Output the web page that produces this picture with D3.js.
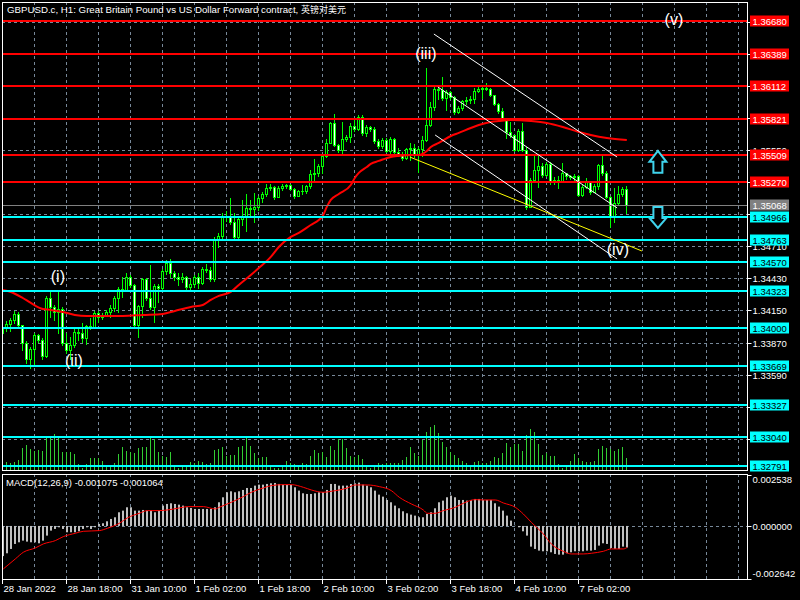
<!DOCTYPE html>
<html><head><meta charset="utf-8">
<script src="https://cdn.jsdelivr.net/npm/d3@7"></script>
<style>
body{margin:0;background:#000;}
svg{display:block;}
text{font-family:"Liberation Sans",Arial,sans-serif;}
</style>
</head><body>
<svg id="c" width="800" height="600"></svg>
<script>
// ---------------- DATA ----------------
const firstOpen = 1.33954;
const closes = [
1.33997,1.34032,1.34067,1.34120,1.34023,1.33866,1.33726,1.33814,1.33936,1.33892,
1.33753,1.34259,1.34181,1.34137,1.34163,1.33866,1.33805,1.33849,1.33962,1.33954,
1.33910,1.34015,1.34006,1.34128,1.34093,1.34111,1.34137,1.34172,1.34259,1.34338,
1.34329,1.34443,1.34373,1.34023,1.34190,1.34426,1.34259,1.34181,1.34364,1.34347,
1.34495,1.34565,1.34478,1.34443,1.34426,1.34443,1.34356,1.34382,1.34443,1.34391,
1.34513,1.34504,1.34426,1.34775,1.34801,1.34976,1.34967,1.34924,1.34793,1.34950,
1.34976,1.35046,1.35037,1.35055,1.35133,1.35168,1.35221,1.35230,1.35142,1.35221,
1.35238,1.35247,1.35212,1.35151,1.35195,1.35195,1.35238,1.35343,1.35352,1.35413,
1.35501,1.35614,1.35789,1.35597,1.35553,1.35649,1.35667,1.35763,1.35737,1.35841,
1.35702,1.35754,1.35737,1.35632,1.35588,1.35640,1.35544,1.35649,1.35536,1.35518,
1.35483,1.35562,1.35570,1.35509,1.35562,1.35640,1.35771,1.35929,1.36086,1.36077,
1.36007,1.36060,1.36016,1.35885,1.35920,1.35981,1.35990,1.35999,1.36069,1.36086,
1.36095,1.36086,1.36034,1.35955,1.35894,1.35833,1.35710,1.35684,1.35553,1.35719,
1.35553,1.35055,1.35291,1.35378,1.35413,1.35334,1.35431,1.35273,1.35291,1.35282,
1.35352,1.35326,1.35317,1.35326,1.35160,1.35230,1.35273,1.35186,1.35238,1.35422,
1.35352,1.35142,1.34967,1.35090,1.35168,1.35212,1.35068];
const highs = [
1.34032,1.34058,1.34085,1.34146,1.34137,1.34023,1.33884,1.33831,1.33954,1.33945,
1.33910,1.34277,1.34312,1.34198,1.34312,1.34181,1.33954,1.33919,1.34006,1.34006,
1.34041,1.34023,1.34085,1.34146,1.34146,1.34128,1.34155,1.34198,1.34277,1.34356,
1.34443,1.34478,1.34460,1.34382,1.34198,1.34434,1.34434,1.34548,1.34382,1.34382,
1.34513,1.34592,1.34600,1.34495,1.34478,1.34478,1.34452,1.34426,1.34460,1.34478,
1.34530,1.34557,1.34530,1.34793,1.34828,1.35002,1.35020,1.35133,1.35002,1.34976,
1.35116,1.35168,1.35116,1.35177,1.35151,1.35186,1.35256,1.35256,1.35238,1.35238,
1.35256,1.35256,1.35256,1.35221,1.35203,1.35247,1.35247,1.35378,1.35474,1.35431,
1.35509,1.35649,1.35798,1.35868,1.35605,1.35798,1.35684,1.35789,1.35833,1.35859,
1.35859,1.35771,1.35763,1.35754,1.35649,1.35658,1.35658,1.35667,1.35658,1.35570,
1.35536,1.35570,1.35614,1.35605,1.35579,1.35675,1.36270,1.35973,1.36112,1.36104,
1.36191,1.36077,1.36069,1.36025,1.35938,1.35990,1.36016,1.36025,1.36095,1.36104,
1.36112,1.36139,1.36095,1.36034,1.35964,1.35920,1.35833,1.35798,1.35684,1.35737,
1.35789,1.35579,1.35308,1.35501,1.35509,1.35439,1.35448,1.35448,1.35317,1.35326,
1.35439,1.35352,1.35334,1.35343,1.35334,1.35247,1.35308,1.35282,1.35256,1.35431,
1.35501,1.35369,1.35151,1.35221,1.35238,1.35230,1.35238];
const lows = [
1.33919,1.33971,1.33971,1.34041,1.34006,1.33805,1.33691,1.33648,1.33674,1.33875,
1.33726,1.33744,1.34093,1.34067,1.33954,1.33849,1.33779,1.33726,1.33831,1.33892,
1.33875,1.33857,1.33989,1.33997,1.34050,1.34076,1.34102,1.34093,1.34146,1.34137,
1.34268,1.34321,1.34356,1.34015,1.33919,1.34093,1.34242,1.34163,1.34050,1.34225,
1.34338,1.34469,1.34443,1.34417,1.34373,1.34399,1.34338,1.34329,1.34356,1.34347,
1.34382,1.34487,1.34408,1.34408,1.34705,1.34784,1.34932,1.34906,1.34766,1.34766,
1.34897,1.34845,1.34967,1.34924,1.35029,1.35099,1.35151,1.35203,1.35125,1.35203,
1.35203,1.35221,1.35203,1.35133,1.35151,1.35168,1.35177,1.35221,1.35273,1.35326,
1.35352,1.35492,1.35614,1.35588,1.35536,1.35527,1.35632,1.35623,1.35719,1.35728,
1.35684,1.35675,1.35719,1.35614,1.35570,1.35570,1.35536,1.35527,1.35518,1.35501,
1.35466,1.35474,1.35466,1.35492,1.35361,1.35501,1.35632,1.35763,1.35903,1.35999,
1.35990,1.35903,1.35999,1.35868,1.35876,1.35903,1.35955,1.35964,1.35964,1.36060,
1.36007,1.36077,1.36025,1.35946,1.35876,1.35815,1.35658,1.35667,1.35544,1.35544,
1.35544,1.35037,1.35072,1.35282,1.35230,1.35317,1.35326,1.35256,1.35256,1.35221,
1.35308,1.35300,1.35300,1.35282,1.35151,1.35151,1.35221,1.35168,1.35195,1.35212,
1.35334,1.35133,1.34880,1.34924,1.35081,1.35151,1.35002];
const volumes = [
250,400,350,400,500,1100,1250,1050,950,1000,
950,1650,1700,1800,1600,900,900,900,800,300,
100,300,600,600,600,450,150,150,350,800,
1150,950,900,850,1100,1150,1150,1600,1550,900,
700,650,900,200,100,150,150,400,350,450,
400,300,350,1000,1050,1150,700,750,750,1150,
1200,1700,1200,850,600,650,650,200,100,100,
250,450,350,300,200,350,300,700,1000,850,
900,650,1200,1000,1550,1550,1100,700,650,750,
550,150,100,200,350,300,350,350,350,350,
500,650,1150,850,700,1500,1900,2150,2250,1850,
1400,1150,900,750,600,450,350,250,400,450,
350,350,450,650,600,850,1350,1150,1300,1300,
950,1750,2050,1900,1300,750,850,700,700,300,
100,150,450,800,600,450,400,400,450,1050,
1200,1100,1050,950,1050,1150,600];
const maBars = [0,2,5,7,10,12,15,18,21,25,30,35,40,43,47,50,52,54,57,59,62,64,67,69,72,74,77,79,80,81,82,84,87,88,89,91,92,94,97,99,102,104,106,107,109,112,114,117,119,122,124,127,132,136,140,144,147,151,156];
const maValues = [1.34329,1.34312,1.34259,1.34216,1.34163,1.34155,1.34137,1.34111,1.34102,1.34102,
1.34102,1.34111,1.34120,1.34146,1.34181,1.34198,1.34242,1.34277,1.34312,1.34373,
1.34460,1.34521,1.34618,1.34705,1.34793,1.34828,1.34897,1.34941,1.34976,1.35055,
1.35116,1.35168,1.35247,1.35308,1.35352,1.35404,1.35431,1.35457,1.35492,1.35501,
1.35509,1.35509,1.35544,1.35579,1.35614,1.35675,1.35702,1.35745,1.35771,1.35798,
1.35806,1.35815,1.35806,1.35789,1.35754,1.35710,1.35684,1.35658,1.35640];
const macdHist = [
-0.001500,
-0.001361,-0.001145,-0.000896,-0.000813,-0.000730,-0.000780,-0.000813,-0.000813,-0.000863,-0.000730,
-0.000481,-0.000232,-0.000149,-0.000066,-0.000149,-0.000315,-0.000315,-0.000315,-0.000266,-0.000149,
-0.000066,-0.000149,-0.000066,0.000100,0.000133,0.000232,0.000349,0.000432,0.000681,0.000764,
0.000930,0.000930,0.000764,0.000764,0.000797,0.000764,0.000764,0.000681,0.000764,0.001013,
0.001096,0.001129,0.001096,0.001062,0.001013,0.000930,0.000896,0.000847,0.000847,0.000847,
0.000847,0.000847,0.000930,0.001179,0.001428,0.001677,0.001726,0.001677,0.001726,0.001793,
0.001892,0.001892,0.002009,0.002058,0.002058,0.002092,0.002125,0.002141,0.002092,0.002058,
0.002058,0.002058,0.001926,0.001760,0.001627,0.001594,0.001594,0.001627,0.001677,0.001677,
0.001793,
0.002092,0.002092,0.002009,0.002009,0.002009,0.002092,0.002125,0.002158,
0.002058,0.002009,0.001926,0.001760,0.001560,0.001461,0.001295,0.001179,0.001013,0.000880,
0.000730,0.000631,0.000564,0.000515,0.000432,0.000432,0.000598,0.000681,0.000880,0.001179,
0.001262,0.001428,0.001511,0.001428,0.001295,0.001295,0.001262,0.001295,0.001345,0.001345,
0.001295,0.001295,0.001295,0.001129,0.000963,0.000764,0.000515,0.000266,0.000010,-0.000066,
-0.000266,-0.000481,-0.001029,-0.001145,-0.001228,-0.001262,-0.001262,-0.001311,-0.001394,-0.001428,
-0.001428,-0.001361,-0.001311,-0.001262,-0.001262,-0.001262,-0.001228,-0.001228,-0.001195,-0.000979,
-0.000863,-0.000896,-0.001096,-0.001145,-0.001145,-0.001029,-0.001075];
const signalBars = [0,3,5,8,10,13,15,18,20,24,26,29,31,34,36,39,41,44,46,50,53,54,57,60,62,65,67,70,72,75,77,80,82,86,88,91,94,97,99,102,105,106,108,110,113,115,118,120,123,125,128,130,132,135,137,140,142,145,147,150,152,155,156];
const signalValues = [-0.002141,-0.001643,-0.001311,-0.001096,-0.000896,-0.000730,-0.000531,-0.000365,-0.000266,-0.000232,
-0.000116,0.000133,0.000398,0.000631,0.000764,0.000764,0.000797,0.000896,0.000963,0.000963,
0.000847,0.000930,0.001179,0.001461,0.001677,0.001892,0.002009,0.002058,0.002058,0.001926,
0.001793,0.001677,0.001726,0.001892,0.002042,0.002042,0.001959,0.001760,0.001428,0.001096,
0.000797,0.000631,0.000631,0.000764,0.000930,0.001129,0.001312,0.001295,0.001295,0.001145,
0.000930,0.000598,0.000183,-0.000398,-0.000896,-0.001262,-0.001394,-0.001394,-0.001361,-0.001262,
-0.001145,-0.001145,-0.001064];
const redLevels = [1.36680,1.36389,1.36112,1.35821,1.35509,1.35270];
const cyanLevels = [1.34966,1.34763,1.34570,1.34323,1.34000,1.33669,1.33327,1.33040,1.32791];
const currentPrice = 1.35068;
const priceGrid = [1.36670,1.36390,1.36110,1.35830,1.35550,1.35270,1.34990,1.34710,1.34430,1.34150,1.33870,1.33590,1.33310,1.33030];
const macdTicks = [0.002538,0.000000,-0.002642];
const timeLabels = ["28 Jan 2022","28 Jan 18:00","31 Jan 10:00","1 Feb 02:00","1 Feb 18:00","2 Feb 10:00","3 Feb 02:00","3 Feb 18:00","4 Feb 10:00","7 Feb 02:00"];
const timeLabelBars = [0,16,32,48,64,80,96,112,128,144];
const channelLines = [[107.9,1.36566,153.7,1.35491],[108.9,1.36103,153.7,1.35046],[108.2,1.35684,153.7,1.34600]];
const yellowLine = [101.9,1.35491,159.9,1.34670];
const waveLabels = ["(i)","(ii)","(iii)","(iv)","(v)"];
const waveBars = [13.9,17.9,105.9,153.9,167.9];
const wavePrices = [1.34443,1.33709,1.36392,1.34687,1.36689];
const arrowBars = [163.9,163.9];
const arrowPrices = [1.35545,1.34871];
const titleLatin = "GBPUSD.c, H1:  Great Britain Pound vs US Dollar Forward contract, ";
const titleCJK = "英镑对美元";
const macdLabel = "MACD(12,26,9) -0.001075 -0.001064";

// ---------------- CHART ----------------
const svg = d3.select("#c");
svg.append("rect").attr("width",800).attr("height",600).attr("fill","#000");
const L=2, R=747, T=2, MB=471, MT=474, B=579;
const x = d3.scaleLinear().domain([0,186]).range([2.3,746.3]);
const y = d3.scaleLinear().domain([1.32747,1.36846]).range([471,2]);
const yM = d3.scaleLinear().domain([-0.002642,0.002538]).range([579,475]);
const yV = d3.scaleLinear().domain([0,2250]).range([470,425]);
const px = i => Math.floor(x(i));
const crisp = v => Math.round(v)+0.5;
const gridCol = "#778899";

const defs = svg.append("defs");
defs.append("clipPath").attr("id","cm").append("rect").attr("x",L+1).attr("y",T+1).attr("width",R-L-1).attr("height",MB-T-1);
defs.append("clipPath").attr("id","cd").append("rect").attr("x",L+1).attr("y",MT+1).attr("width",R-L-1).attr("height",B-MT-1);

const gMain = svg.append("g").attr("clip-path","url(#cm)");
const gMacd = svg.append("g").attr("clip-path","url(#cd)");

// vertical grid
const vBars = d3.range(8,185,8);
[[gMain,T,MB],[gMacd,MT,B]].forEach(([g,a,b])=>{
  g.selectAll(null).data(vBars).join("line")
   .attr("x1",d=>px(d)+0.5).attr("x2",d=>px(d)+0.5).attr("y1",a).attr("y2",b)
   .attr("stroke",gridCol).attr("stroke-dasharray","3,3");
});
// horizontal grid main
gMain.selectAll(null).data(priceGrid).join("line")
  .attr("x1",L).attr("x2",R).attr("y1",d=>crisp(y(d))).attr("y2",d=>crisp(y(d)))
  .attr("stroke",gridCol).attr("stroke-dasharray","3,3");
gMacd.append("line").attr("x1",L).attr("x2",R).attr("y1",crisp(yM(0))).attr("y2",crisp(yM(0)))
  .attr("stroke",gridCol).attr("stroke-dasharray","3,3");

// volumes
gMain.selectAll(null).data(volumes).join("rect")
  .attr("x",(d,i)=>px(i)).attr("width",1)
  .attr("y",d=>yV(d)).attr("height",d=>yV(0)-yV(d)+1).attr("fill","#32cd32");

// candles
const candles = closes.map((c,i)=>{
  const o = i===0?firstOpen:closes[i-1];
  return {i,o,c,h:Math.max(highs[i],o,c),l:Math.min(lows[i],o,c)};
});
const cg = gMain.append("g");
candles.forEach(d=>{
  const cx = px(d.i);
  const yh = Math.round(y(d.h)), yl = Math.round(y(d.l));
  const yt = Math.round(y(Math.max(d.o,d.c))), yb = Math.round(y(Math.min(d.o,d.c)));
  cg.append("rect").attr("x",cx).attr("width",1).attr("y",yh).attr("height",yl-yh+1).attr("fill","#00ff00");
  cg.append("rect").attr("x",cx-1).attr("width",3).attr("y",yt).attr("height",yb-yt+1).attr("fill","#00ff00");
  if (yb-yt>=2) cg.append("rect").attr("x",cx).attr("width",1).attr("y",yt+1).attr("height",yb-yt-1)
      .attr("fill", d.c<d.o ? "#ffffff" : "#000000");
});

// moving average
gMain.append("path").datum(maBars.map((b,k)=>[b,maValues[k]]))
  .attr("d",d3.line().x(d=>x(d[0])+0.5).y(d=>y(d[1])).curve(d3.curveMonotoneX))
  .attr("fill","none").attr("stroke","#ff0000").attr("stroke-width",2);

// horizontal level lines
gMain.append("line").attr("x1",L).attr("x2",R).attr("y1",crisp(y(currentPrice))).attr("y2",crisp(y(currentPrice)))
  .attr("stroke","#808080");
gMain.selectAll(null).data(redLevels).join("line")
  .attr("x1",L).attr("x2",R).attr("y1",d=>Math.round(y(d))).attr("y2",d=>Math.round(y(d)))
  .attr("stroke","#ff0000").attr("stroke-width",2);
gMain.selectAll(null).data(cyanLevels).join("line")
  .attr("x1",L).attr("x2",R).attr("y1",d=>Math.round(y(d))).attr("y2",d=>Math.round(y(d)))
  .attr("stroke","#00ffff").attr("stroke-width",2);

// trend lines
gMain.selectAll(null).data(channelLines).join("line")
  .attr("x1",d=>x(d[0])).attr("y1",d=>y(d[1])).attr("x2",d=>x(d[2])).attr("y2",d=>y(d[3]))
  .attr("stroke","#ffffff").attr("stroke-width",1);
gMain.append("line").attr("x1",x(yellowLine[0])).attr("y1",y(yellowLine[1]))
  .attr("x2",x(yellowLine[2])).attr("y2",y(yellowLine[3])).attr("stroke","#ffff00").attr("stroke-width",1);

// arrows
const upPath = "M0,0 L8.5,11 L4.5,11 L4.5,22 L-4.5,22 L-4.5,11 L-8.5,11 Z";
const dnPath = "M0,0 L8.5,-10 L4.5,-10 L4.5,-21 L-4.5,-21 L-4.5,-10 L-8.5,-10 Z";
[upPath,dnPath].forEach((p,k)=>{
  gMain.append("path").attr("d",p)
    .attr("transform",`translate(${x(arrowBars[k])},${y(arrowPrices[k])})`)
    .attr("fill","#000").attr("stroke","#3fd3ec").attr("stroke-width",2).attr("stroke-linejoin","miter");
});

// wave labels
gMain.selectAll(null).data(waveLabels).join("text")
  .attr("x",(d,k)=>x(waveBars[k])).attr("y",(d,k)=>y(wavePrices[k]))
  .attr("text-anchor","middle").attr("dominant-baseline","central")
  .attr("fill","#ffffff").attr("font-size","16px").text(d=>d);

// MACD histogram
gMacd.selectAll(null).data(macdHist).join("rect")
  .attr("x",(d,i)=>px(i)).attr("width",2)
  .attr("y",d=>Math.min(yM(d),yM(0))).attr("height",d=>Math.abs(yM(d)-yM(0)))
  .attr("fill","#c0c0c0");
gMacd.append("path").datum(signalBars.map((b,k)=>[b,signalValues[k]]))
  .attr("d",d3.line().x(d=>x(d[0])+1).y(d=>yM(d[1])).curve(d3.curveMonotoneX))
  .attr("fill","none").attr("stroke","#ff0000").attr("stroke-width",1);

// frames
const fr = svg.append("g").attr("stroke","#ffffff").attr("fill","none");
fr.append("rect").attr("x",L+0.5).attr("y",T+0.5).attr("width",R-L).attr("height",MB-T-1);
fr.append("rect").attr("x",L+0.5).attr("y",MT+0.5).attr("width",R-L).attr("height",B-MT);

// right price axis
const ax = svg.append("g").attr("font-size","9.5px").attr("fill","#ffffff");
const boxLevels = redLevels.concat(cyanLevels,[currentPrice]);
priceGrid.forEach(p=>{
  const yy = crisp(y(p));
  ax.append("line").attr("x1",R+0.5).attr("x2",R+4.5).attr("y1",yy).attr("y2",yy).attr("stroke","#fff");
  // labels fully covered by a level box are not visible in the reference
  const covered = boxLevels.some(b=>Math.abs(y(b)-y(p))<4);
  if (!covered) ax.append("text").attr("x",752.5).attr("y",yy+3.5).text(p.toFixed(5));
});
function levelBox(p, bg, fg){
  const yy = Math.round(y(p));
  ax.append("rect").attr("x",750).attr("y",yy-5.5).attr("width",39).attr("height",11).attr("fill",bg);
  ax.append("text").attr("x",752.5).attr("y",yy+3.5).attr("fill",fg).text(p.toFixed(5));
}
redLevels.forEach(p=>levelBox(p,"#ff0000","#ffffff"));
cyanLevels.forEach(p=>levelBox(p,"#00ffff","#000000"));
levelBox(currentPrice,"#808080","#ffffff");

// MACD axis
macdTicks.forEach((v,k)=>{
  const yy = k===0 ? MT+1.5 : (k===2 ? B+0.5 : crisp(yM(v)));
  const ty = k===0 ? yy+7.5 : (k===2 ? yy-3 : yy+3.5);
  ax.append("line").attr("x1",R+0.5).attr("x2",R+4.5).attr("y1",yy).attr("y2",yy).attr("stroke","#fff");
  ax.append("text").attr("x",752.5).attr("y",ty).text(v.toFixed(6));
});

// time axis
const tx = svg.append("g").attr("font-size","9.5px").attr("fill","#ffffff");
timeLabelBars.forEach((b,k)=>{
  const xx = px(b)+0.5;
  tx.append("line").attr("x1",xx).attr("x2",xx).attr("y1",B).attr("y2",B+5).attr("stroke","#fff");
  tx.append("text").attr("x",xx+1).attr("y",592).text(timeLabels[k]);
});

// title & MACD label
const tt = svg.append("text").attr("x",7).attr("y",12.5).attr("fill","#fff");
tt.append("tspan").attr("font-size","9.7px").text(titleLatin);
tt.append("tspan").attr("font-size","9px").attr("font-family","'Noto Sans CJK SC',sans-serif").text(titleCJK);
svg.append("text").attr("x",6).attr("y",486).attr("fill","#fff").attr("font-size","9.5px").text(macdLabel);
</script>
</body></html>
